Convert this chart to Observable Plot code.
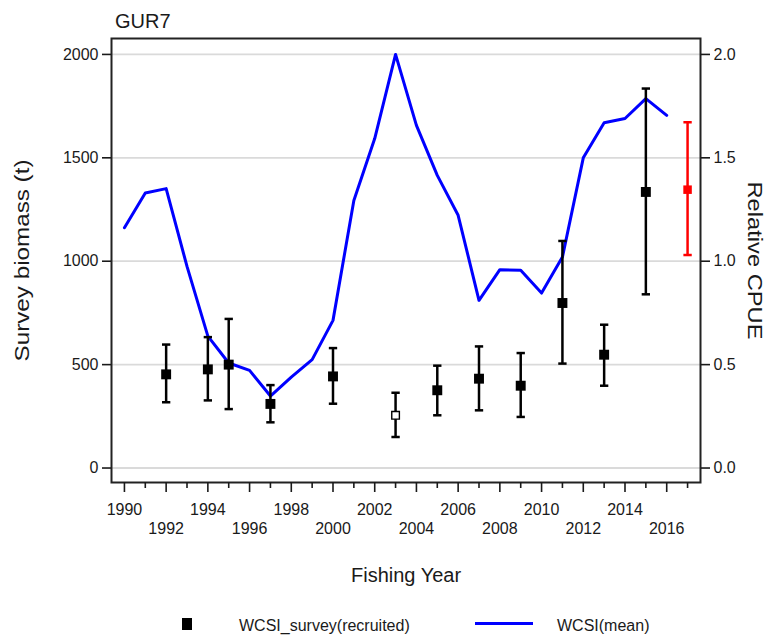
<!DOCTYPE html>
<html>
<head>
<meta charset="utf-8">
<script src="https://cdn.jsdelivr.net/npm/d3@7"></script>
<script src="https://cdn.jsdelivr.net/npm/@observablehq/plot@0.6"></script>
<style>
  body { margin: 0; background: #ffffff; }
  #chart { position: relative; width: 771px; height: 637px; font-family: "Liberation Sans", Arial, sans-serif; color: #1a1a1a; }
  #chart svg { position: absolute; left: 0; top: 0; }
  #title { position: absolute; left: 115px; top: 11px; font-size: 20px; line-height: 20px; }
  .lg { position: absolute; font-size: 16px; line-height: 16px; white-space: nowrap; }
  .lg-square { position: absolute; left: 182px; top: 618px; width: 10px; height: 12px; background: #000; }
  .lg-line { position: absolute; left: 475px; top: 621.5px; width: 58px; height: 3.5px; background: #0000ff; }
</style>
</head>
<body>
<div id="chart">
  <div id="title">GUR7</div>
</div>
<script>
// Relative CPUE, WCSI mean index by fishing year
const cpueYears = [1990, 1991, 1992, 1993, 1994, 1995, 1996, 1997, 1998, 1999, 2000, 2001, 2002,
                   2003, 2004, 2005, 2006, 2007, 2008, 2009, 2010, 2011, 2012, 2013, 2014, 2015, 2016];
const cpueValues = [1.162, 1.33, 1.351, 0.975, 0.638, 0.508, 0.472, 0.348, 0.44, 0.524, 0.714, 1.294, 1.593,
                    2.0, 1.657, 1.415, 1.222, 0.811, 0.959, 0.956, 0.846, 1.02, 1.50, 1.67, 1.69, 1.786, 1.705];

// WCSI trawl survey biomass (t), recruited fish, with confidence bounds
const surveyYears   = [1992, 1994, 1995, 1997, 2000, 2003, 2005, 2007, 2009, 2011, 2013, 2015];
const surveyBiomass = [453, 477, 500, 310, 443, 255, 376, 432, 398, 798, 548, 1335];
const surveyLower   = [318, 327, 285, 221, 311, 150, 255, 279, 247, 505, 398, 840];
const surveyUpper   = [597, 633, 721, 401, 580, 364, 495, 588, 556, 1098, 693, 1835];
const surveyFilled  = [true, true, true, true, true, false, true, true, true, true, true, true];

// Latest survey estimate, shown in red
const latestYear = [2017];
const latestBiomass = [1346];
const latestLower = [1030];
const latestUpper = [1672];

// Axis ticks
const biomassTicks = [0, 500, 1000, 1500, 2000];
const cpueTicks = [0.0, 0.5, 1.0, 1.5, 2.0];
const yearLabelsUpper = [1990, 1994, 1998, 2002, 2006, 2010, 2014];
const yearLabelsLower = [1992, 1996, 2000, 2004, 2008, 2012, 2016];
const yearMinorTicks = [1991, 1993, 1995, 1997, 1999, 2001, 2003, 2005, 2007, 2009, 2011, 2013, 2015, 2017];

const legendLabels = ["WCSI_survey(recruited)", "WCSI(mean)"];

// one unit of relative CPUE sits level with 1000 t on the biomass axis
const CPUE_TO_T = 1000;
const CAP = 0.2; // error-bar cap half-width, in years

const cpue = cpueYears.map((year, i) => ({year, value: cpueValues[i] * CPUE_TO_T}));
const survey = surveyYears.map((year, i) => ({
  year, biomass: surveyBiomass[i], lo: surveyLower[i], hi: surveyUpper[i], filled: surveyFilled[i]
}));
const latest = latestYear.map((year, i) => ({
  year, biomass: latestBiomass[i], lo: latestLower[i], hi: latestUpper[i]
}));

const font = '"Liberation Sans", Arial, sans-serif';

const errorBars = (data, color) => [
  Plot.ruleX(data, {x: "year", y1: "lo", y2: "hi", stroke: color, strokeWidth: 2.5}),
  Plot.link(data, {x1: d => d.year - CAP, x2: d => d.year + CAP, y1: "hi", y2: "hi", stroke: color, strokeWidth: 2.5}),
  Plot.link(data, {x1: d => d.year - CAP, x2: d => d.year + CAP, y1: "lo", y2: "lo", stroke: color, strokeWidth: 2.5})
];

const plot = Plot.plot({
  width: 771,
  height: 637,
  marginLeft: 111,
  marginRight: 71,
  marginTop: 38,
  marginBottom: 155,
  style: {fontFamily: font, fontSize: "16px", color: "#1a1a1a", background: "transparent"},
  x: {domain: [1989.38, 2017.62], label: null},
  y: {domain: [-70, 2077], label: null},
  marks: [
    Plot.gridY(biomassTicks, {stroke: "#dadada", strokeOpacity: 1, strokeWidth: 1.8}),
    Plot.frame({stroke: "#222", strokeWidth: 2}),
    Plot.axisY(biomassTicks, {anchor: "left", tickSize: 9, tickPadding: 4, fontSize: 16, strokeWidth: 1.6, label: null,
      tickFormat: d => String(d)}),
    Plot.axisY(cpueTicks.map(v => v * CPUE_TO_T), {
      anchor: "right", tickSize: 9, tickPadding: 4, fontSize: 16, strokeWidth: 1.6, label: null,
      tickFormat: d => (d / CPUE_TO_T).toFixed(1)
    }),
    Plot.axisX(yearMinorTicks, {anchor: "bottom", tickSize: 6, strokeWidth: 1.6, tickFormat: () => "", label: null}),
    Plot.axisX(yearLabelsUpper, {anchor: "bottom", tickSize: 10, tickPadding: 11, strokeWidth: 1.6, fontSize: 16, tickFormat: d => String(d), label: null}),
    Plot.axisX(yearLabelsLower, {anchor: "bottom", tickSize: 10, tickPadding: 30, strokeWidth: 1.6, fontSize: 16, tickFormat: d => String(d), label: null}),
    Plot.line(cpue, {x: "year", y: "value", stroke: "#0000ff", strokeWidth: 3}),
    ...errorBars(survey, "#000"),
    Plot.dot(survey.filter(d => d.filled), {x: "year", y: "biomass", symbol: "square", r: 5.6, fill: "#000"}),
    Plot.dot(survey.filter(d => !d.filled), {x: "year", y: "biomass", symbol: "square", r: 4.3, fill: "#fff", stroke: "#000", strokeWidth: 1.4}),
    ...errorBars(latest, "#ff0000"),
    Plot.dot(latest, {x: "year", y: "biomass", symbol: "square", r: 4.8, fill: "#ff0000"}),
    Plot.text(["Fishing Year"], {text: d => d, frameAnchor: "bottom", dy: 85, lineAnchor: "top", textAnchor: "middle", fontSize: 20}),
    Plot.text(["Survey biomass (t)"], {text: d => d, frameAnchor: "left", dx: -97, rotate: -90, lineAnchor: "top", textAnchor: "middle", fontSize: 20}),
    Plot.text(["Relative CPUE"], {text: d => d, frameAnchor: "right", dx: 62, rotate: 90, lineAnchor: "top", textAnchor: "middle", fontSize: 20})
  ]
});

// side titles are drawn a little elongated along their baseline
d3.select(plot).selectAll("text").each(function() {
  const t = this.textContent;
  if (t === "Survey biomass (t)") d3.select(this).attr("textLength", 202).attr("lengthAdjust", "spacingAndGlyphs");
  if (t === "Relative CPUE") d3.select(this).attr("textLength", 158).attr("lengthAdjust", "spacingAndGlyphs");
});

const chart = document.getElementById("chart");
chart.insertBefore(plot, chart.firstChild);

// legend below the plot
const legend = [
  {cls: "lg-square"},
  {cls: "lg", text: legendLabels[0], left: 239, top: 617.5},
  {cls: "lg-line"},
  {cls: "lg", text: legendLabels[1], left: 557, top: 617.5}
];
for (const item of legend) {
  const el = document.createElement("div");
  el.className = item.cls;
  if (item.text) {
    el.textContent = item.text;
    el.style.left = item.left + "px";
    el.style.top = item.top + "px";
  }
  chart.appendChild(el);
}
</script>
</body>
</html>
